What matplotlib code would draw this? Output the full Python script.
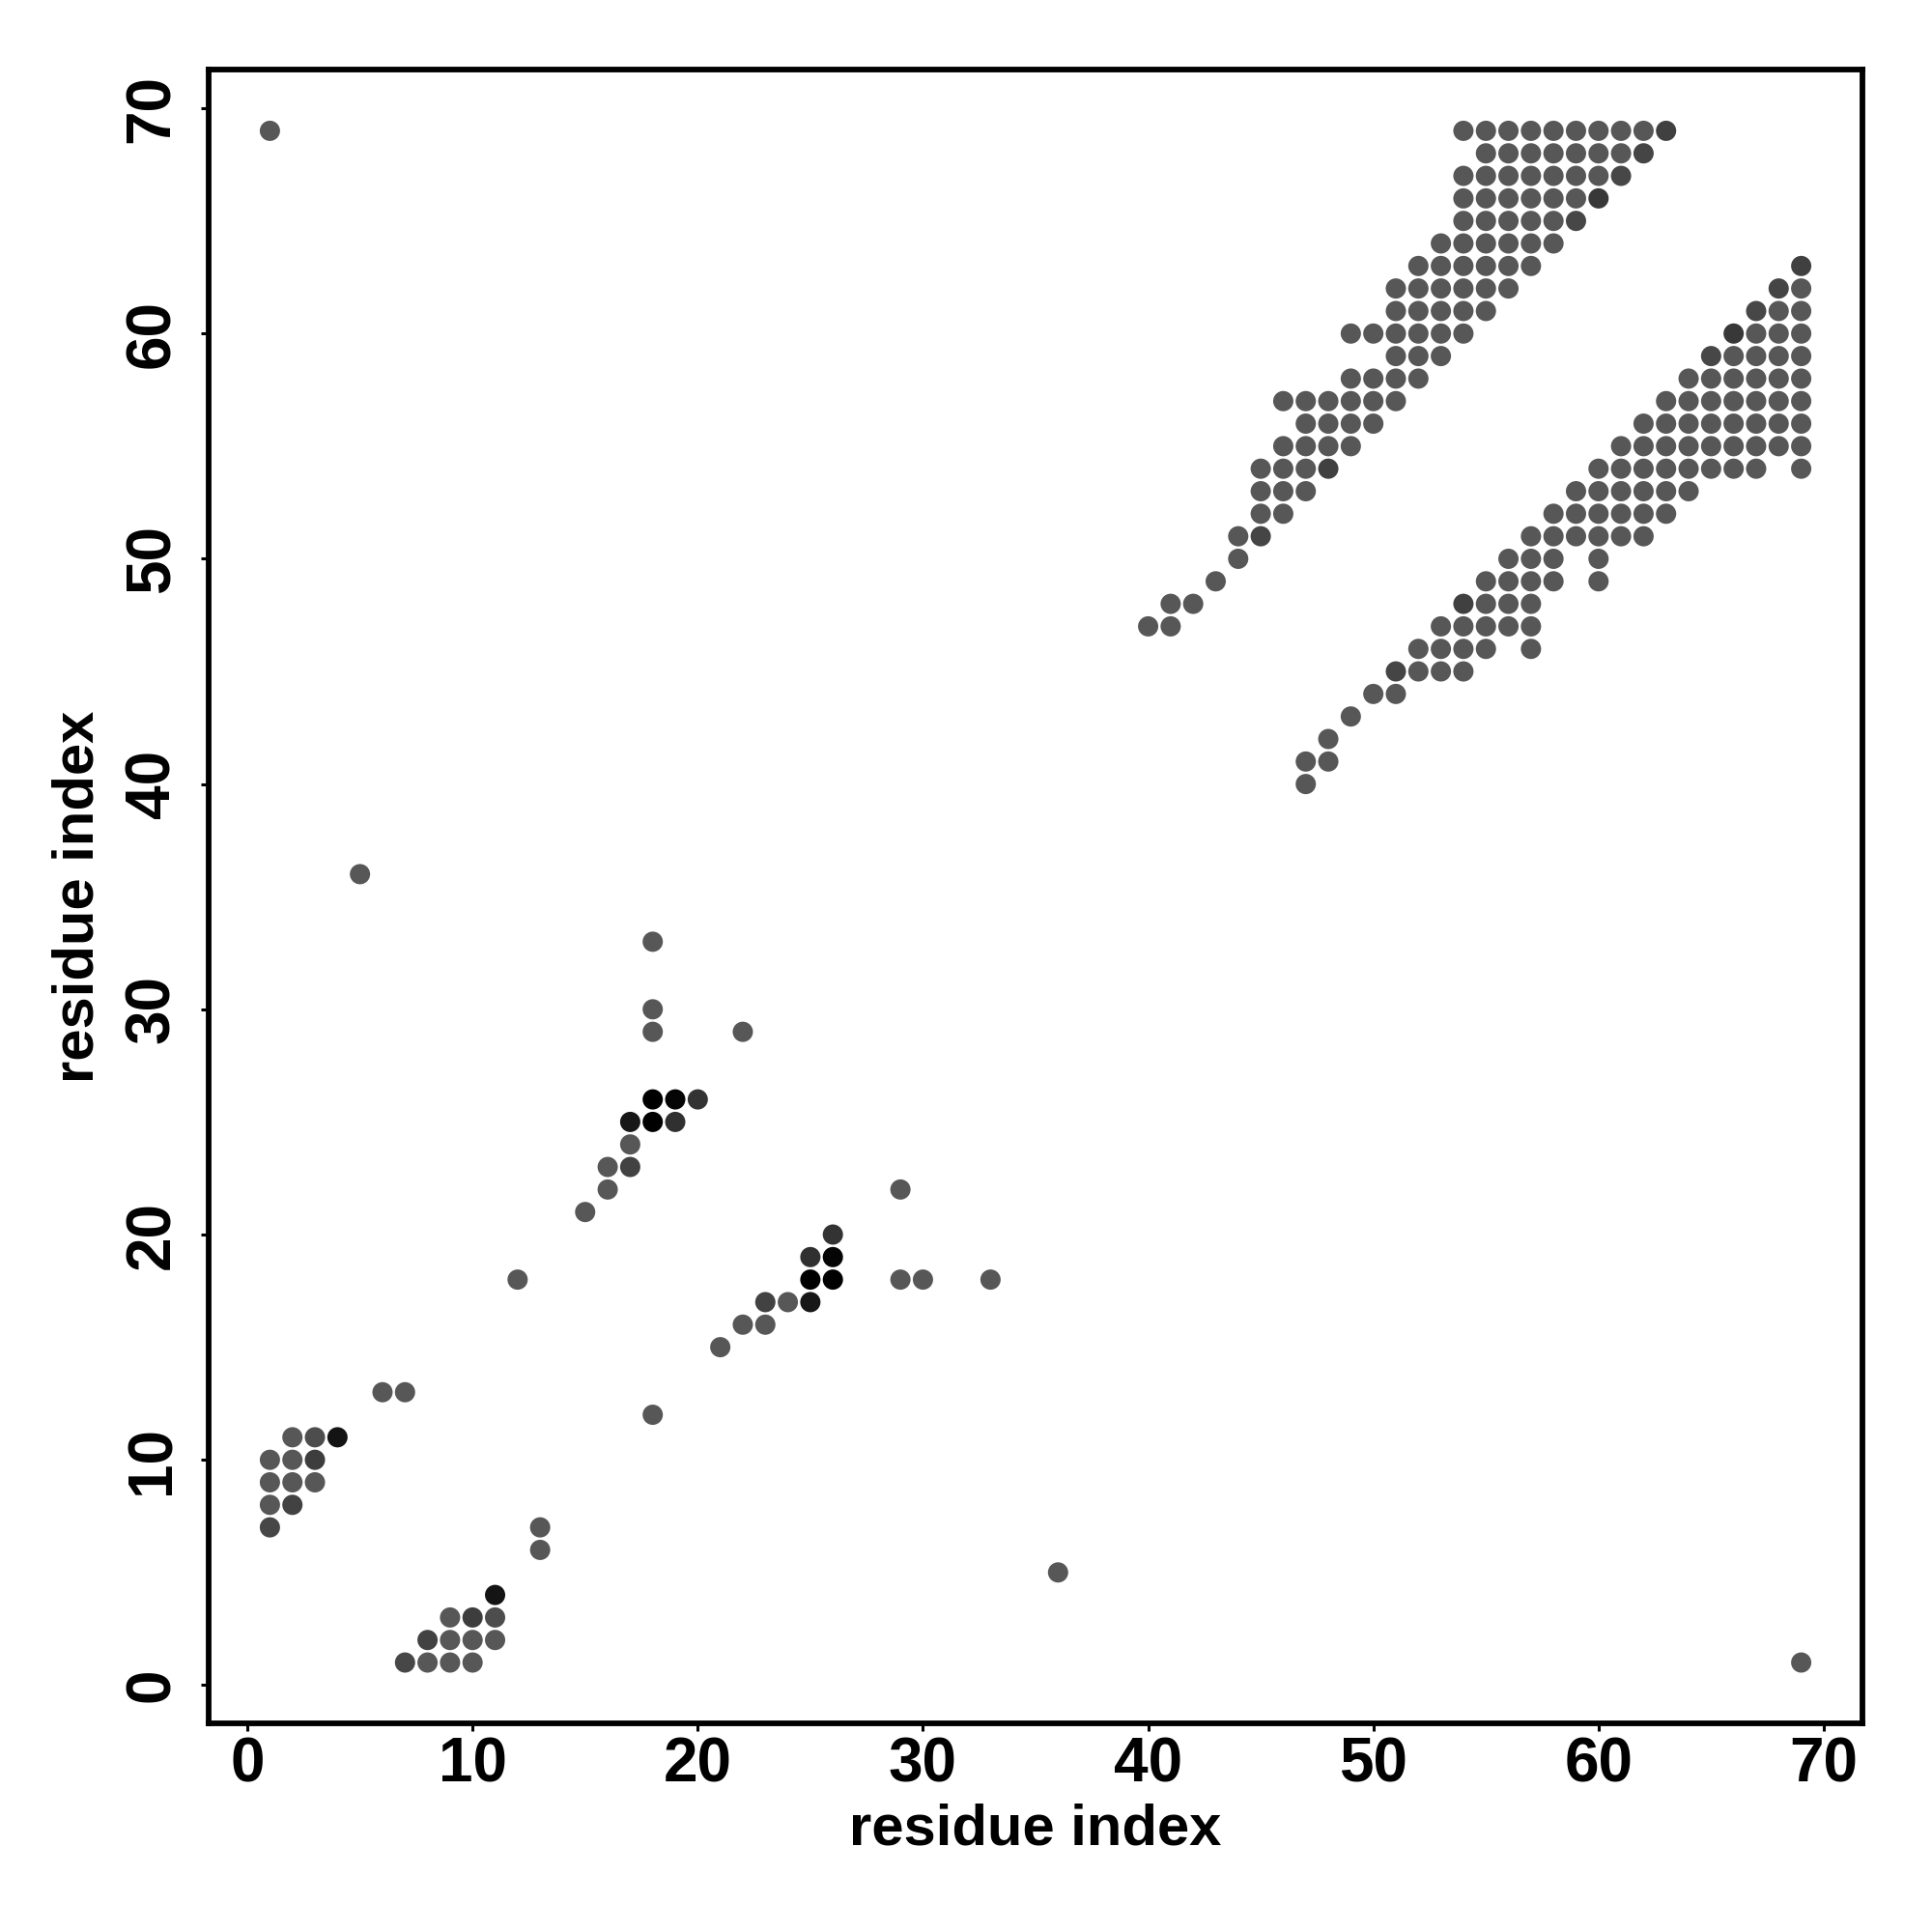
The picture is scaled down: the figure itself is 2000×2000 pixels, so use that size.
import matplotlib
matplotlib.use("Agg")
import matplotlib.pyplot as plt

# Contact map: pairs (i < j), drawn symmetrically.

# Upper-right cluster, one row per residue j: list of partner residues i.
band_j = [69, 68, 67, 66, 65, 64, 63, 62, 61, 60, 59, 58, 57, 56, 55, 54, 53, 52, 51, 50, 49, 48, 47]
band_i = [
    [54, 55, 56, 57, 58, 59, 60, 61, 62, 63],
    [55, 56, 57, 58, 59, 60, 61, 62],
    [54, 55, 56, 57, 58, 59, 60, 61],
    [54, 55, 56, 57, 58, 59, 60],
    [54, 55, 56, 57, 58, 59],
    [53, 54, 55, 56, 57, 58],
    [52, 53, 54, 55, 56, 57],
    [51, 52, 53, 54, 55, 56],
    [51, 52, 53, 54, 55],
    [49, 50, 51, 52, 53, 54],
    [51, 52, 53],
    [49, 50, 51, 52],
    [46, 47, 48, 49, 50, 51],
    [47, 48, 49, 50],
    [46, 47, 48, 49],
    [45, 46, 47, 48],
    [45, 46, 47],
    [45, 46],
    [44, 45],
    [44],
    [43],
    [41, 42],
    [40, 41],
]

# Remaining contacts (i < j)
other_i = [1, 1, 1, 1, 2, 2, 2, 2, 3, 3, 3, 4, 6, 7,
           12, 15, 16, 16, 17, 17, 17, 18, 18, 19, 19, 20,
           18, 18, 18, 22, 5, 1]
other_j = [7, 8, 9, 10, 8, 9, 10, 11, 9, 10, 11, 11, 13, 13,
           18, 21, 22, 23, 23, 24, 25, 25, 26, 25, 26, 26,
           29, 30, 33, 29, 36, 69]

# Grey level per contact (0 = black); everything else uses default_grey
default_grey = 0.34
dark_i = [4, 3, 2, 1, 3, 17, 18, 18, 19, 19, 20, 17, 60, 63, 62, 61, 59, 48, 45]
dark_j = [11, 10, 8, 7, 11, 25, 25, 26, 26, 25, 26, 23, 66, 69, 68, 67, 65, 54, 51]
dark_grey = [0.08, 0.24, 0.26, 0.28, 0.30, 0.09, 0.0, 0.0, 0.02, 0.19, 0.2, 0.26,
             0.22, 0.25, 0.27, 0.28, 0.28, 0.25, 0.27]

pairs_i, pairs_j = [], []
for j, row in zip(band_j, band_i):
    for i in row:
        pairs_i.append(i)
        pairs_j.append(j)
pairs_i += other_i
pairs_j += other_j

shade = {(i, j): g for i, j, g in zip(dark_i, dark_j, dark_grey)}

xs, ys, cols = [], [], []
for i, j in zip(pairs_i, pairs_j):
    g = shade.get((i, j), default_grey)
    c = (g, g, g)
    xs += [i, j]
    ys += [j, i]
    cols += [c, c]

plt.rcParams["font.family"] = ["Liberation Sans", "DejaVu Sans"]
plt.rcParams["font.weight"] = "bold"

fig = plt.figure(figsize=(20, 20), dpi=100)
ax = fig.add_axes([0.108, 0.108, 0.856, 0.856])

ax.scatter(xs, ys, s=228, c=cols, edgecolors="none", zorder=3)

ax.set_xlim(-1.72, 71.72)
ax.set_ylim(-1.70, 71.72)
ticks = [0, 10, 20, 30, 40, 50, 60, 70]
ax.set_xticks(ticks)
ax.set_yticks(ticks)
ax.set_xticklabels([str(t) for t in ticks], fontsize=46, fontweight="bold")
ax.set_yticklabels([str(t) for t in ticks], fontsize=46, fontweight="bold",
                   rotation=90, va="center")
ax.tick_params(axis="both", length=6, width=2.2, direction="out", color="black")
ax.tick_params(axis="x", pad=4)
ax.tick_params(axis="y", pad=14)

for sp in ax.spines.values():
    sp.set_linewidth(4.2)
    sp.set_color("black")

ax.set_xlabel("residue index", fontsize=43, fontweight="bold", labelpad=6)
ax.set_ylabel("residue index", fontsize=43, fontweight="bold", labelpad=14)

fig.savefig("out.png", dpi=100, facecolor="white")
